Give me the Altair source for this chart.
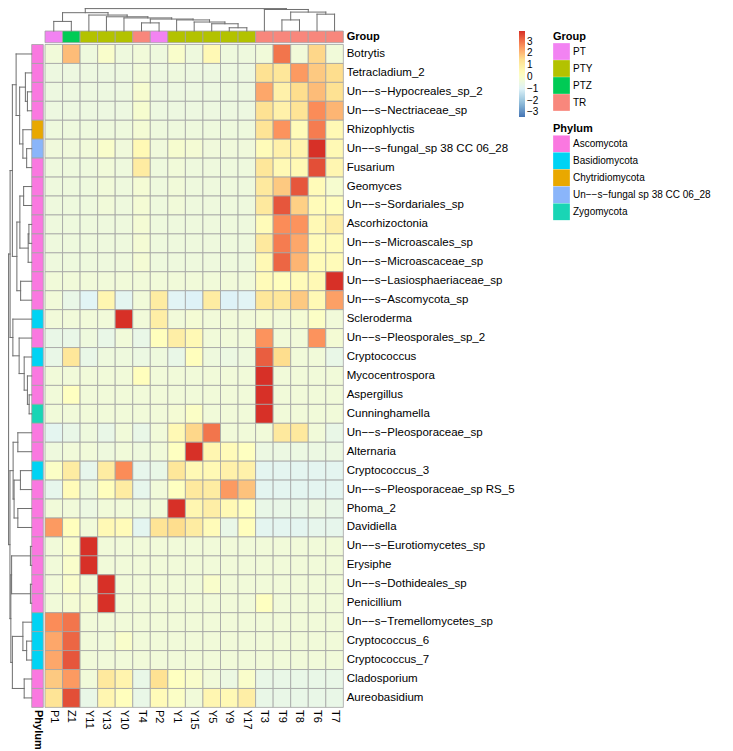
import altair as alt
import pandas as pd

# ---------------- data ----------------
samples = ["P1", "Z1", "Y11", "Y13", "Y10", "T4", "P2", "Y1", "Y15", "Y5", "Y9", "Y17",
           "T3", "T9", "T8", "T6", "T7"]
groups = ["PT", "PTZ", "PTY", "PTY", "PTY", "TR", "PT", "PTY", "PTY", "PTY", "PTY", "PTY",
          "TR", "TR", "TR", "TR", "TR"]

taxa = ["Botrytis", "Tetracladium_2", "Un\u2212\u2212s\u2212Hypocreales_sp_2",
        "Un\u2212\u2212s\u2212Nectriaceae_sp", "Rhizophlyctis",
        "Un\u2212\u2212s\u2212fungal_sp 38 CC 06_28", "Fusarium", "Geomyces",
        "Un\u2212\u2212s\u2212Sordariales_sp", "Ascorhizoctonia",
        "Un\u2212\u2212s\u2212Microascales_sp", "Un\u2212\u2212s\u2212Microascaceae_sp",
        "Un\u2212\u2212s\u2212Lasiosphaeriaceae_sp", "Un\u2212\u2212s\u2212Ascomycota_sp",
        "Scleroderma", "Un\u2212\u2212s\u2212Pleosporales_sp_2", "Cryptococcus",
        "Mycocentrospora", "Aspergillus", "Cunninghamella",
        "Un\u2212\u2212s\u2212Pleosporaceae_sp", "Alternaria", "Cryptococcus_3",
        "Un\u2212\u2212s\u2212Pleosporaceae_sp RS_5", "Phoma_2", "Davidiella",
        "Un\u2212\u2212s\u2212Eurotiomycetes_sp", "Erysiphe",
        "Un\u2212\u2212s\u2212Dothideales_sp", "Penicillium",
        "Un\u2212\u2212s\u2212Tremellomycetes_sp", "Cryptococcus_6", "Cryptococcus_7",
        "Cladosporium", "Aureobasidium"]

ASC, BAS, CHY, UNF, ZYG = ("Ascomycota", "Basidiomycota", "Chytridiomycota",
                           "Un\u2212\u2212s\u2212fungal sp 38 CC 06_28", "Zygomycota")
phyla = [ASC, ASC, ASC, ASC, CHY, UNF, ASC, ASC, ASC, ASC, ASC, ASC, ASC, ASC,
         BAS, ASC, BAS, ASC, ASC, ZYG, ASC, ASC, BAS, ASC, ASC, ASC, ASC, ASC, ASC, ASC,
         BAS, BAS, BAS, ASC, ASC]

# row-scaled abundance (z-scores), columns in the order of `samples`
values = [
    [-0.3, 2.0, -0.4, 0.0, -0.4, -0.3, -0.4, 0.0, -0.4, 0.5, -0.4, -0.4, -0.3, 3.0, -0.3, 1.6, -0.3],
    [-0.45, -0.45, -0.45, -0.45, -0.45, -0.3, -0.45, -0.4, -0.45, -0.45, -0.45, -0.45, 1.4, 1.2, 2.5, 1.8, 1.5],
    [-0.45, -0.45, -0.45, -0.45, -0.45, -0.1, -0.45, -0.45, -0.45, -0.45, -0.45, -0.45, 2.3, 0.8, 1.5, 2.0, 1.4],
    [-0.45, -0.45, -0.45, -0.45, -0.45, -0.1, -0.45, -0.45, -0.45, -0.45, -0.45, -0.45, 1.4, 0.8, 1.3, 2.7, 2.1],
    [-0.4, -0.4, -0.4, -0.4, -0.4, -0.2, -0.4, -0.4, -0.4, -0.4, -0.4, -0.4, 1.3, 2.6, 0.4, 2.9, 0.5],
    [-0.35, -0.35, -0.3, 0.0, -0.35, 0.5, -0.35, -0.1, -0.2, -0.35, -0.35, -0.35, 0.4, 0.8, 0.7, 3.9, 0.5],
    [-0.4, -0.4, -0.4, -0.3, -0.4, 1.0, -0.4, -0.3, -0.4, -0.4, -0.4, -0.4, 1.2, 0.5, 0.5, 3.5, 0.6],
    [-0.4, -0.4, -0.4, -0.3, -0.4, -0.2, -0.4, -0.3, -0.4, -0.4, -0.4, -0.4, 1.1, 1.8, 3.4, 0.4, -0.1],
    [-0.4, -0.4, -0.4, -0.3, -0.4, -0.2, -0.4, -0.3, -0.4, -0.4, -0.4, -0.4, 1.1, 3.4, 1.7, 0.4, 0.3],
    [-0.4, -0.4, -0.4, -0.4, -0.4, -0.2, -0.4, -0.4, -0.4, -0.4, -0.4, -0.4, 0.4, 2.7, 2.6, 0.5, 0.9],
    [-0.4, -0.4, -0.4, -0.4, -0.4, -0.2, -0.4, -0.4, -0.4, -0.4, -0.4, -0.4, 1.1, 2.9, 2.3, 0.4, 0.4],
    [-0.4, -0.4, -0.4, -0.4, -0.4, -0.2, -0.4, -0.4, -0.4, -0.4, -0.4, -0.4, 0.5, 3.2, 2.1, 0.4, 0.4],
    [-0.3, -0.3, -0.3, -0.3, -0.3, -0.3, -0.3, -0.3, -0.3, -0.3, -0.3, -0.3, 0.4, 0.3, 0.4, 0.5, 3.9],
    [-0.3, -0.6, -0.9, 0.6, -0.8, -0.3, 1.0, -0.9, -1.0, 1.0, -1.0, -0.9, 1.2, 1.2, 1.8, 0.5, 2.4],
    [-0.3, -0.3, -0.3, -0.3, 3.9, -0.3, 0.9, -0.3, -0.2, -0.3, -0.3, -0.3, -0.2, -0.3, -0.2, 0.1, -0.3],
    [-0.6, -0.6, -0.4, -0.6, -0.3, -0.6, 0.3, 0.9, 0.5, -0.3, -0.3, -0.3, 2.6, -0.3, -0.3, 2.6, -0.2],
    [-0.6, 1.2, -0.6, -0.4, -0.4, -0.5, -0.4, -0.6, 0.3, -0.4, -0.5, -0.4, 3.3, 1.5, -0.3, -0.3, -0.6],
    [-0.3, -0.3, -0.3, -0.3, -0.3, 0.3, -0.3, -0.3, -0.3, -0.3, -0.3, -0.3, 3.9, -0.3, -0.3, -0.3, -0.3],
    [-0.3, 0.2, -0.3, -0.3, -0.3, -0.3, -0.3, -0.3, -0.3, -0.3, -0.3, -0.3, 3.9, -0.3, -0.3, -0.3, -0.3],
    [-0.3, -0.3, -0.3, -0.3, -0.3, -0.3, -0.3, -0.2, 0.1, -0.3, -0.3, -0.3, 3.9, -0.3, -0.3, -0.3, -0.3],
    [-0.8, -0.6, -0.4, -0.6, -0.3, -0.6, -0.3, 0.5, 1.6, 3.0, -0.3, -0.3, -0.3, 1.1, 1.1, -0.3, -0.6],
    [-0.4, -0.3, -0.3, -0.4, -0.3, -0.4, -0.3, 0.2, 3.9, 0.6, 0.4, 0.2, -0.5, -0.5, -0.5, -0.5, -0.5],
    [0.1, 1.0, -0.7, 1.0, 2.7, -0.7, -0.6, 1.2, 0.5, 0.5, 0.8, 0.8, -0.8, -0.8, -0.8, -0.8, -0.8],
    [-0.7, 0.4, -0.4, 0.3, 1.0, -0.7, -0.3, 0.2, 1.1, 1.0, 2.5, 1.9, -0.8, -0.8, -0.8, -0.8, -0.8],
    [-0.3, -0.3, -0.5, -0.3, -0.3, -0.4, -0.3, 3.9, 0.6, 0.9, 0.5, 0.3, -0.6, -0.6, -0.6, -0.5, -0.6],
    [2.5, 0.3, -0.3, 0.5, 0.4, -0.8, 1.3, 1.5, 1.0, 0.4, -0.6, 0.3, -0.8, -0.8, -0.8, -0.7, -0.7],
    [-0.3, 0.0, 3.9, -0.3, -0.3, -0.3, -0.3, -0.3, -0.3, -0.3, -0.3, -0.3, -0.3, -0.3, -0.3, -0.3, -0.3],
    [-0.3, 0.0, 3.9, -0.3, -0.3, -0.3, -0.3, -0.3, -0.3, -0.3, -0.3, -0.3, -0.3, -0.3, -0.3, -0.3, -0.3],
    [-0.3, 0.0, -0.3, 3.9, -0.3, -0.3, -0.3, -0.3, -0.3, 0.0, -0.3, -0.3, -0.3, -0.3, -0.3, -0.3, -0.3],
    [-0.3, -0.2, -0.2, 3.9, -0.3, -0.3, -0.3, -0.3, -0.3, -0.3, -0.3, -0.3, 0.2, -0.3, -0.3, -0.3, -0.3],
    [2.7, 3.0, -0.3, -0.3, -0.3, -0.3, -0.3, -0.3, -0.3, -0.3, -0.3, -0.3, -0.3, -0.3, -0.3, -0.3, -0.3],
    [2.3, 3.2, -0.3, -0.3, 0.0, -0.3, -0.3, -0.3, -0.3, -0.3, -0.3, -0.3, -0.3, -0.3, -0.3, -0.3, -0.3],
    [2.3, 3.4, -0.3, -0.3, -0.3, -0.3, -0.3, -0.3, -0.3, -0.3, -0.3, -0.3, -0.3, -0.3, -0.3, -0.3, -0.3],
    [1.8, 2.5, -0.3, 1.1, 0.7, -0.6, 1.4, 0.2, 0.0, -0.3, -0.5, 0.0, -0.6, -0.6, -0.6, -0.6, -0.6],
    [1.3, 3.5, -0.6, 0.6, 0.3, -0.6, 0.4, 0.1, -0.3, 0.6, 0.5, 0.9, -0.6, -0.6, -0.6, -0.6, -0.6],
]

# hierarchical clustering merges: (child_a, child_b, height); ids >= n refer to earlier merges
col_merges = [
    (10, 11, 3.7), (9, 17, 8.3), (8, 18, 10.3), (7, 19, 12.7), (5, 6, 9.3),
    (21, 20, 13.7), (4, 22, 15.0), (3, 23, 16.3), (2, 24, 18.3), (0, 1, 11.0),
    (26, 25, 21.0), (13, 14, 12.7), (15, 16, 19.3), (28, 29, 21.7), (12, 30, 24.7),
    (27, 31, 25.7),
]
row_merges = [
    (2, 3, 5.7), (1, 35, 8.4), (5, 6, 6.7), (4, 37, 11.7), (36, 38, 16.0),
    (0, 39, 20.7), (9, 10, 3.7), (41, 11, 4.7), (7, 8, 10.7), (43, 42, 15.7),
    (12, 13, 14.7), (44, 45, 19.7), (40, 46, 25.7), (18, 19, 3.4), (17, 48, 5.7),
    (16, 49, 10.0), (15, 50, 16.7), (14, 51, 25.0), (20, 21, 18.4), (22, 23, 15.0),
    (24, 25, 18.4), (54, 55, 23.4), (53, 56, 24.7), (26, 27, 1.7), (28, 29, 1.7),
    (58, 59, 26.7), (31, 32, 6.7), (30, 61, 11.7), (33, 34, 10.0), (62, 63, 25.7),
    (60, 64, 27.7), (47, 52, 28.7), (57, 65, 28.9), (66, 67, 30.7),
]

heat_colors = ["#4575B4", "#91BFDB", "#E0F3F8", "#FFFFBF", "#FEE090", "#FC8D59", "#D73027"]
group_names = ["PT", "PTY", "PTZ", "TR"]
group_colors = ["#F283F2", "#B3C200", "#00CB55", "#F8877C"]
phylum_names = [ASC, BAS, CHY, UNF, ZYG]
phylum_colors = ["#FA78E0", "#00D3F4", "#E9A800", "#8AB5FA", "#19D5B5"]

# ---------------- layout ----------------
W, H = 717, 743            # plot area (page minus margins)
CW, CH = 17.55, 18.94      # cell size in px
X0, Y0 = 37.0, 36.5        # heatmap top-left in plot px
FONT = "Liberation Sans"
nC, nR = len(samples), len(taxa)


def ux(px):
    return (px - X0) / CW


def uy(px):
    return (px - Y0) / CH


xs = alt.Scale(domain=[ux(0), ux(W)], nice=False, zero=False)
ys = alt.Scale(domain=[uy(0), uy(H)], nice=False, zero=False, reverse=True)

# heatmap cells
cells = []
for r, row in enumerate(values):
    for c, v in enumerate(row):
        cells.append({"x0": c, "x1": c + 1, "y0": r, "y1": r + 1, "v": v,
                      "taxon": taxa[r], "sample": samples[c]})
cells = pd.DataFrame(cells)

lo, hi = -3.4, 3.9
stops = [lo + (hi - lo) * i / (len(heat_colors) - 1) for i in range(len(heat_colors))]

heat = alt.Chart(cells).mark_rect(stroke="#A3A3A3", strokeWidth=0.8).encode(
    x=alt.X("x0:Q", scale=xs, axis=None), x2="x1:Q",
    y=alt.Y("y0:Q", scale=ys, axis=None), y2="y1:Q",
    color=alt.Color("v:Q", scale=alt.Scale(domain=stops, range=heat_colors, interpolate="rgb"),
                    legend=alt.Legend(title=None, orient="none", legendX=511, legendY=23,
                                      direction="vertical", gradientLength=86,
                                      gradientThickness=6, gradientStrokeWidth=0,
                                      values=[3, 2, 1, 0, -1, -2, -3], labelOverlap=False,
                                      labelFontSize=10, labelFont=FONT, labelColor="black",
                                      labelOffset=2, padding=0)),
)

# group annotation (top)
gdf = pd.DataFrame({"x0": list(range(nC)), "x1": [i + 1 for i in range(nC)],
                    "y0": uy(23.0), "y1": uy(34.7), "Group": groups})
gann = alt.Chart(gdf).mark_rect(stroke="#A3A3A3", strokeWidth=0.8).encode(
    x=alt.X("x0:Q", scale=xs, axis=None), x2="x1:Q",
    y=alt.Y("y0:Q", scale=ys, axis=None), y2="y1:Q",
    color=alt.Color("Group:N", scale=alt.Scale(domain=group_names, range=group_colors),
                    legend=alt.Legend(title="Group", orient="none", legendX=545, legendY=23,
                                      symbolType="square", symbolSize=279,
                                      symbolStrokeWidth=0, symbolOpacity=1, rowPadding=0,
                                      labelFontSize=10, labelFont=FONT, labelColor="black",
                                      titleFontSize=11, titleFont=FONT, titleColor="black",
                                      titleFontWeight="bold", titlePadding=1, labelOffset=3,
                                      padding=0)),
)

# phylum annotation (left)
pdf = pd.DataFrame({"x0": ux(23.7), "x1": ux(35.3), "y0": list(range(nR)),
                    "y1": [i + 1 for i in range(nR)], "Phylum": phyla})
pann = alt.Chart(pdf).mark_rect(stroke="#A3A3A3", strokeWidth=0.8).encode(
    x=alt.X("x0:Q", scale=xs, axis=None), x2="x1:Q",
    y=alt.Y("y0:Q", scale=ys, axis=None), y2="y1:Q",
    color=alt.Color("Phylum:N", scale=alt.Scale(domain=phylum_names, range=phylum_colors),
                    legend=alt.Legend(title="Phylum", orient="none", legendX=545, legendY=115.3,
                                      symbolType="square", symbolSize=279,
                                      symbolStrokeWidth=0, symbolOpacity=1, rowPadding=0,
                                      labelFontSize=10, labelFont=FONT, labelColor="black",
                                      labelLimit=400,
                                      titleFontSize=11, titleFont=FONT, titleColor="black",
                                      titleFontWeight="bold", titlePadding=1, labelOffset=3,
                                      padding=0)),
)


# dendrograms
def dendro(merges, n):
    pos = {i: i + 0.5 for i in range(n)}
    hgt = {i: 0.0 for i in range(n)}
    segs = []
    for k, (a, b, h) in enumerate(merges):
        m = n + k
        pos[m] = (pos[a] + pos[b]) / 2
        hgt[m] = h
        segs.append((pos[a], h, pos[b], h))
        segs.append((pos[a], hgt[a], pos[a], h))
        segs.append((pos[b], hgt[b], pos[b], h))
    return segs


ctop = max(h for _, _, h in col_merges)
kc = (23.0 - 0.6) / ctop
cseg = pd.DataFrame([{"x": p1, "x2": p2, "y": uy(23.0 - h1 * kc), "y2": uy(23.0 - h2 * kc)}
                     for p1, h1, p2, h2 in dendro(col_merges, nC)])
rtop = max(h for _, _, h in row_merges)
kr = (23.7 - 0.6) / rtop
rseg = pd.DataFrame([{"y": p1, "y2": p2, "x": ux(23.7 - h1 * kr), "x2": ux(23.7 - h2 * kr)}
                     for p1, h1, p2, h2 in dendro(row_merges, nR)])
segs = pd.concat([cseg, rseg], ignore_index=True)
dend = alt.Chart(segs).mark_rule(color="#6E6E6E", strokeWidth=1, strokeCap="square").encode(
    x=alt.X("x:Q", scale=xs, axis=None), x2="x2:Q",
    y=alt.Y("y:Q", scale=ys, axis=None), y2="y2:Q",
)

# labels
rl = pd.DataFrame({"x": ux(338.7), "y": [i + 0.5 for i in range(nR)], "t": taxa})
rowlab = alt.Chart(rl).mark_text(align="left", baseline="middle", font=FONT, fontSize=11.5,
                                 color="black").encode(
    x=alt.X("x:Q", scale=xs, axis=None), y=alt.Y("y:Q", scale=ys, axis=None), text="t:N")

cl = pd.DataFrame({"x": [i + 0.5 for i in range(nC)], "y": uy(702.0), "t": samples})
collab = alt.Chart(cl).mark_text(align="left", baseline="middle", angle=90, font=FONT,
                                 fontSize=11, color="black").encode(
    x=alt.X("x:Q", scale=xs, axis=None), y=alt.Y("y:Q", scale=ys, axis=None), text="t:N")

tl = pd.DataFrame({"x": [ux(338.7)], "y": [uy(29.0)], "t": ["Group"]})
glab = alt.Chart(tl).mark_text(align="left", baseline="middle", font=FONT, fontSize=11,
                               fontWeight="bold", color="black").encode(
    x=alt.X("x:Q", scale=xs, axis=None), y=alt.Y("y:Q", scale=ys, axis=None), text="t:N")

pl = pd.DataFrame({"x": [ux(29.5)], "y": [uy(702.0)], "t": ["Phylum"]})
plab = alt.Chart(pl).mark_text(align="left", baseline="middle", angle=90, font=FONT,
                               fontSize=11, fontWeight="bold", color="black").encode(
    x=alt.X("x:Q", scale=xs, axis=None), y=alt.Y("y:Q", scale=ys, axis=None), text="t:N")

chart = alt.layer(heat, gann, pann, dend, rowlab, collab, glab, plab).resolve_scale(
    color="independent"
).properties(
    width=W, height=H, padding=0, autosize=alt.AutoSizeParams(type="none"),
    background="white",
).configure_view(stroke=None)

chart.save("out.html", embed_options={"renderer": "svg", "actions": False})
